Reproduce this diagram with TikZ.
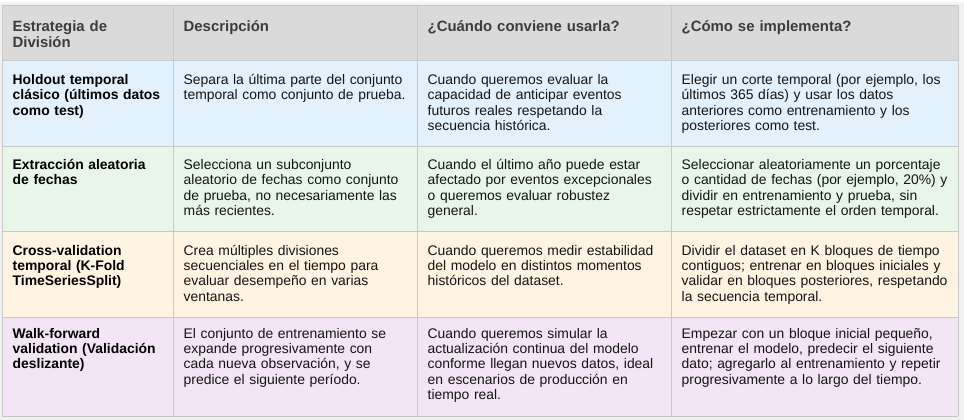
\documentclass[tikz,border=0pt]{standalone}
\usepackage{fontspec}
\setmainfont{Liberation Sans}
\definecolor{hdrfill}{HTML}{DADADA}
\definecolor{rowblue}{HTML}{E3F1FC}
\definecolor{rowgreen}{HTML}{E8F5E9}
\definecolor{roworange}{HTML}{FFF3E1}
\definecolor{rowpurple}{HTML}{F3E5F5}
\definecolor{gridc}{HTML}{C9C9C9}
\definecolor{hdrtext}{HTML}{3C3C3C}
\definecolor{bodytext}{HTML}{141414}
\definecolor{shadowc}{HTML}{F1F1F1}
\begin{document}
\begin{tikzpicture}[x=1pt,y=-1pt,
  cell/.style={anchor=base west,inner sep=0pt,text width=285pt,align=left,
    font=\fontsize{13.9}{15.4}\selectfont,text=bodytext},
  hcell/.style={cell,font=\fontsize{14.9}{15.4}\selectfont\bfseries,text=hdrtext},
  bcell/.style={cell,font=\fontsize{13.9}{15.4}\selectfont\bfseries,text=black},
  gridline/.style={draw=gridc,line width=1pt}]
\useasboundingbox (0,0) rectangle (964,420);
% soft shadow round the table
\fill[shadowc] (0,0) rectangle (964,420);
\shade[top color=white,bottom color=gray!18] (0,0) rectangle (964,6);
% row fills
\fill[hdrfill]    (2,6)   rectangle (958,61);
\fill[rowblue]    (2,61)  rectangle (958,146);
\fill[rowgreen]   (2,146) rectangle (958,231);
\fill[roworange]  (2,231) rectangle (958,317);
\fill[rowpurple]  (2,317) rectangle (958,416);
% grid
\foreach \yy in {6,61,146,231,317,416} \draw[gridline] (2,\yy) -- (958,\yy);
\foreach \xx in {2,173,417,671,958} \draw[gridline] (\xx,6) -- (\xx,416);
% header
\node[hcell] (h1) at (12.5,31.8) {Estrategia de\\División};
\node[hcell] (h2) at (183.5,31.8) {Descripción};
\node[hcell] (h3) at (427.5,31.8) {¿Cuándo conviene usarla?};
\node[hcell] (h4) at (681.5,31.8) {¿Cómo se implementa?};
% row 1
\node[bcell] (a1) at (12.5,84.5) {Holdout temporal\\clásico (últimos datos\\como test)};
\node[cell] (a2) at (183.5,84.5) {Separa la última parte del conjunto\\temporal como conjunto de prueba.};
\node[cell] (a3) at (427.5,84.5) {Cuando queremos evaluar la\\capacidad de anticipar eventos\\futuros reales respetando la\\secuencia histórica.};
\node[cell] (a4) at (681.5,84.5) {Elegir un corte temporal (por ejemplo, los\\últimos 365 días) y usar los datos\\anteriores como entrenamiento y los\\posteriores como test.};
% row 2
\node[bcell] (b1) at (12.5,169.5) {Extracción aleatoria\\de fechas};
\node[cell] (b2) at (183.5,169.5) {Selecciona un subconjunto\\aleatorio de fechas como conjunto\\de prueba, no necesariamente las\\más recientes.};
\node[cell] (b3) at (427.5,169.5) {Cuando el último año puede estar\\afectado por eventos excepcionales\\o queremos evaluar robustez\\general.};
\node[cell] (b4) at (681.5,169.5) {Seleccionar aleatoriamente un porcentaje\\o cantidad de fechas (por ejemplo, 20\%) y\\dividir en entrenamiento y prueba, sin\\respetar estrictamente el orden temporal.};
% row 3
\node[bcell] (c1) at (12.5,255) {Cross-validation\\temporal (K-Fold\\TimeSeriesSplit)};
\node[cell] (c2) at (183.5,255) {Crea múltiples divisiones\\secuenciales en el tiempo para\\evaluar desempeño en varias\\ventanas.};
\node[cell] (c3) at (427.5,255) {Cuando queremos medir estabilidad\\del modelo en distintos momentos\\históricos del dataset.};
\node[cell] (c4) at (681.5,255) {Dividir el dataset en K bloques de tiempo\\contiguos; entrenar en bloques iniciales y\\validar en bloques posteriores, respetando\\la secuencia temporal.};
% row 4
\node[bcell] (d1) at (12.5,338) {Walk-forward\\validation (Validación\\deslizante)};
\node[cell] (d2) at (183.5,338) {El conjunto de entrenamiento se\\expande progresivamente con\\cada nueva observación, y se\\predice el siguiente período.};
\node[cell] (d3) at (427.5,338) {Cuando queremos simular la\\actualización continua del modelo\\conforme llegan nuevos datos, ideal\\en escenarios de producción en\\tiempo real.};
\node[cell] (d4) at (681.5,338) {Empezar con un bloque inicial pequeño,\\entrenar el modelo, predecir el siguiente\\dato; agregarlo al entrenamiento y repetir\\progresivamente a lo largo del tiempo.};
\end{tikzpicture}
\end{document}
